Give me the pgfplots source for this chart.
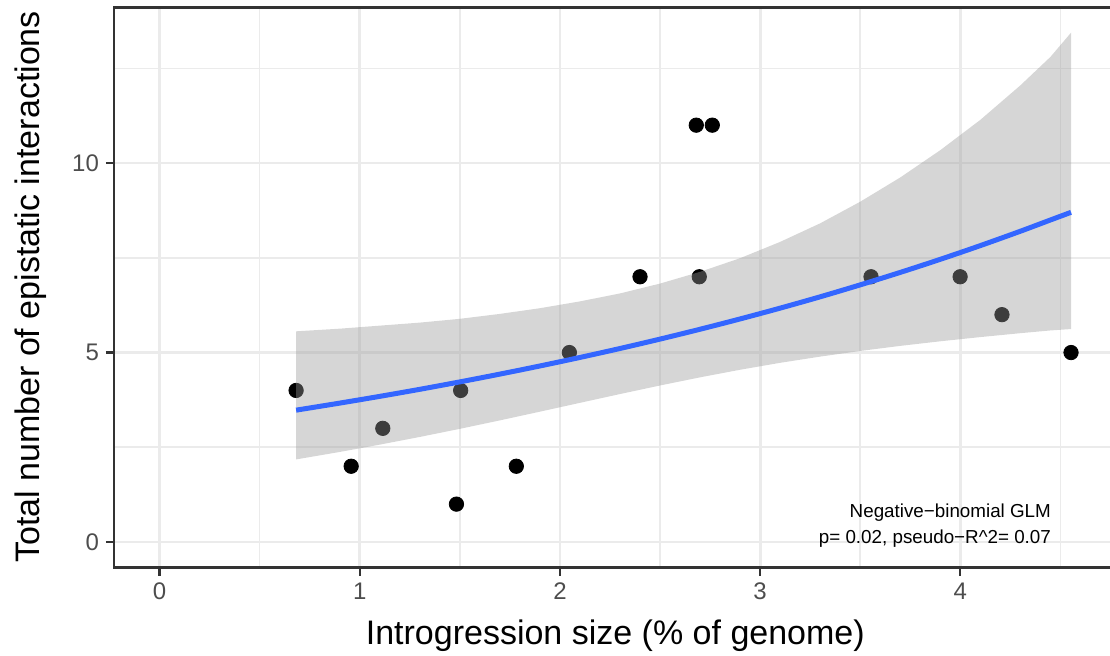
\documentclass[border=0pt]{standalone}
\usepackage{pgfplots}
\pgfplotsset{compat=1.18}
\usepackage{pgfplotstable}
\usepackage{fontspec}
\setmainfont{Liberation Sans}
\definecolor{gridc}{HTML}{EBEBEB}
\definecolor{framec}{HTML}{333333}
\definecolor{ticklab}{HTML}{4D4D4D}
\definecolor{smoothc}{HTML}{3366FF}
\definecolor{ribbonc}{HTML}{999999}

\pgfplotstableread{
x y
0.682 4
0.957 2
1.115 3
1.483 1
1.504 4
1.782 2
2.047 5
2.400 7
2.681 11
2.696 7
2.761 11
3.554 7
3.999 7
4.208 6
4.553 5
}\points

% fitted curve
\pgfplotstableread{
x fit
0.682 3.48
0.9 3.666
1.1 3.844
1.3 4.030
1.5 4.226
1.7 4.431
1.9 4.646
2.1 4.871
2.3 5.107
2.5 5.355
2.7 5.615
2.9 5.887
3.1 6.172
3.3 6.471
3.5 6.786
3.7 7.115
3.9 7.460
4.1 7.822
4.3 8.201
4.45 8.498
4.553 8.70
}\fit

% confidence band: upper edge left to right, lower edge right to left
\pgfplotstableread{
x y
0.682 5.56
0.9 5.63
1.1 5.71
1.3 5.79
1.5 5.89
1.7 6.02
1.9 6.17
2.1 6.35
2.3 6.56
2.5 6.82
2.7 7.13
2.9 7.49
3.1 7.92
3.3 8.41
3.5 8.98
3.7 9.62
3.9 10.34
4.1 11.14
4.3 12.05
4.45 12.80
4.553 13.44
4.553 5.62
4.45 5.583
4.3 5.511
4.1 5.408
3.9 5.297
3.7 5.176
3.5 5.042
3.3 4.893
3.1 4.729
2.9 4.546
2.7 4.346
2.5 4.131
2.3 3.905
2.1 3.673
1.9 3.440
1.7 3.210
1.5 2.987
1.3 2.773
1.1 2.570
0.9 2.377
0.682 2.18
}\band

\begin{document}
\begin{tikzpicture}
\begin{axis}[
  at={(0,0)}, anchor=south west,
  clip mode=individual,
  scale only axis, width=501.3pt, height=280.1pt,
  xmin=-0.2277, xmax=4.7807, ymin=-0.672, ymax=14.11,
  xtick={0,1,2,3,4}, ytick={0,5,10},
  minor xtick={0.5,1.5,2.5,3.5,4.5}, minor ytick={2.5,7.5,12.5},
  grid=both,
  major grid style={draw=gridc, line width=1.4pt},
  minor grid style={draw=gridc, line width=0.8pt},
  axis line style={draw=framec, line width=1.3pt},
  tick align=outside, xtick pos=bottom, ytick pos=left,
  major tick length=4pt, minor tick length=0pt,
  tick style={draw=framec, line width=1.1pt},
  tick label style={font=\fontsize{12}{14}\selectfont, text=ticklab},
  /pgf/number format/assume math mode=true,
  xlabel={Introgression size (\% of genome)},
  ylabel={Total number of epistatic interactions},
  label style={font=\fontsize{17}{20}\selectfont},
  xlabel style={at={(rel axis cs:0.5,-0.1383)}, anchor=base},
  ylabel style={at={(rel axis cs:-0.0738,0.5007)}, anchor=base},
]
\addplot[only marks, mark=*, mark size=3.6pt, draw=black, fill=black] table[x=x,y=y]{\points};
\addplot[fill=ribbonc, fill opacity=0.4, draw=none] table[x=x,y=y]{\band};
\addplot[smooth, draw=smoothc, line width=2.5pt] table[x=x,y=fit]{\fit};
\node[anchor=base east, font=\fontsize{9.4}{11}\selectfont] at (rel axis cs:0.9415,0.0901) {Negative−binomial GLM};
\node[anchor=base east, font=\fontsize{9.4}{11}\selectfont] at (rel axis cs:0.9415,0.0437) {p= 0.02, pseudo−R\textasciicircum 2= 0.07};
\end{axis}
\pgfresetboundingbox
\path[use as bounding box] (-57pt,-43.75pt) rectangle (498pt,283.75pt);
\end{tikzpicture}
\end{document}
